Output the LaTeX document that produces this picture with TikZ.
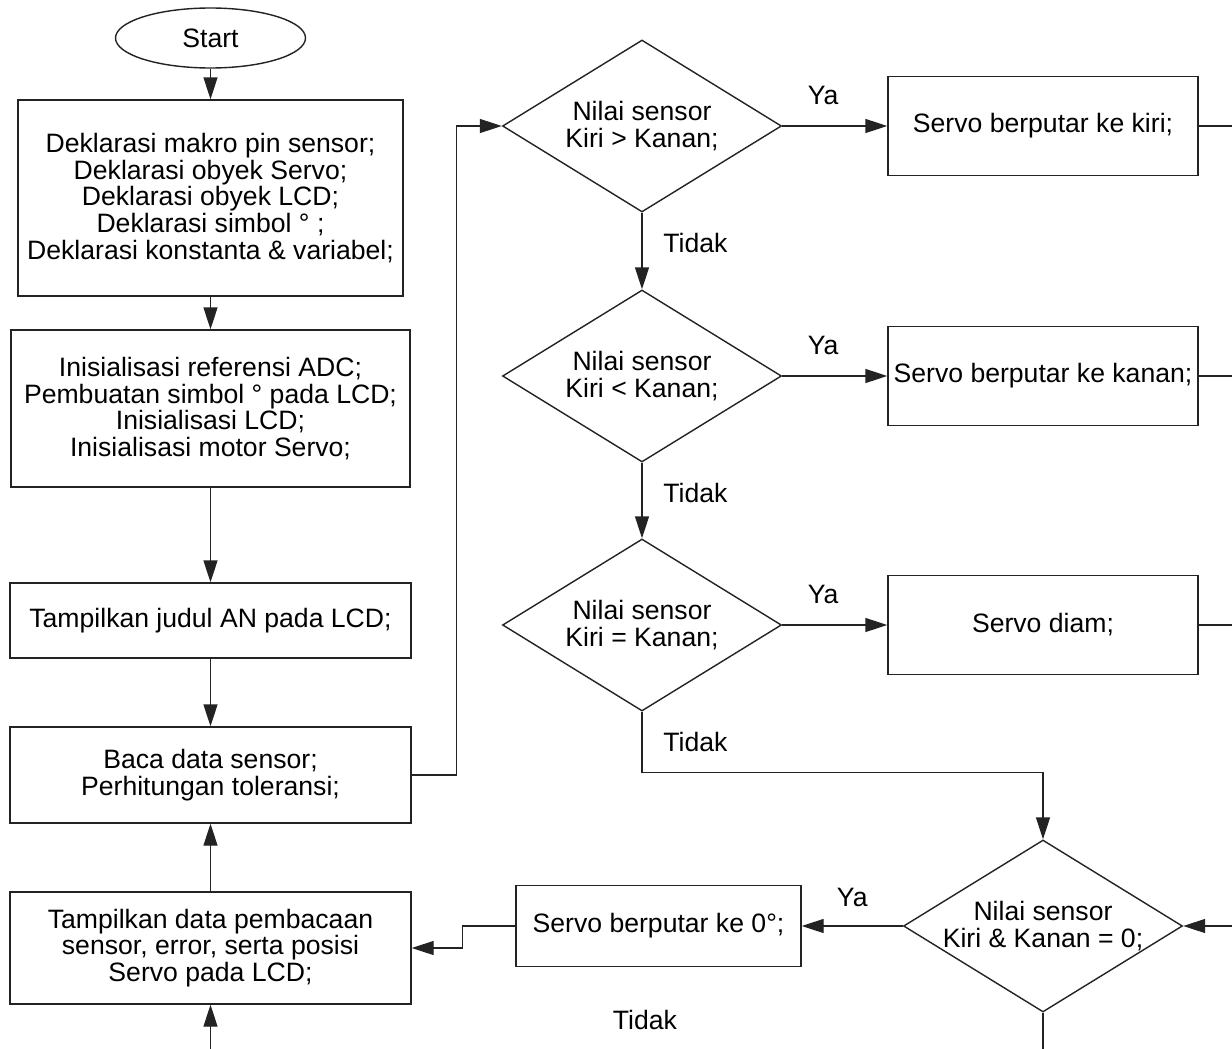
\documentclass[tikz,border=0pt]{standalone}
\usepackage{fontspec}
\setmainfont{Liberation Sans}
\usepackage{tikz}
\usetikzlibrary{shapes.geometric, arrows.meta, positioning, calc}
\definecolor{garis}{RGB}{35,35,35}

\begin{document}
\begin{tikzpicture}[
  x=0.5pt, y=-0.5pt,
  font=\fontsize{13.3}{13.4}\selectfont,
  terminal/.style={ellipse, draw=garis, line width=0.7pt, minimum width=95pt,
                   minimum height=30pt, inner sep=0pt},
  proses/.style={rectangle, draw=garis, line width=0.7pt, align=center,
                 inner sep=0pt},
  keputusan/.style={diamond, draw=garis, line width=0.7pt,
                    minimum width=139.5pt, minimum height=86pt, inner sep=0pt},
  isi/.style={align=center, inner sep=0pt},
  panah/.style={-{Triangle[length=11pt, width=7pt]}, line width=0.7pt, garis},
  sambung/.style={line width=0.7pt, garis},
  ket/.style={text=black}
]
\path[use as bounding box, fill=white] (0,0) rectangle (1232,1049);

% Titik ujung bebas
\coordinate (tepi)   at (1232,0);
\coordinate (masuk)  at (1232,926);
\coordinate (bawah)  at (210.5,1049);
\coordinate (keluar) at (1043,1049);

% Kolom kiri
\node[terminal] (start) at (210.5,38) {Start};
\node[proses, minimum width=192.5pt, minimum height=98pt] (dekl) at (210.5,198)
  {Deklarasi makro pin sensor;\\Deklarasi obyek Servo;\\Deklarasi obyek LCD;\\
   Deklarasi simbol ° ;\\Deklarasi konstanta \& variabel;};
\node[proses, minimum width=199.5pt, minimum height=78.5pt] (init) at (210.5,408.5)
  {Inisialisasi referensi ADC;\\Pembuatan simbol ° pada LCD;\\Inisialisasi LCD;\\
   Inisialisasi motor Servo;};
\node[proses, minimum width=200.5pt, minimum height=37.5pt] (judul) at (210.5,620.5)
  {Tampilkan judul AN pada LCD;};
\node[proses, minimum width=200.5pt, minimum height=48pt] (baca) at (210.5,775)
  {Baca data sensor;\\Perhitungan toleransi;};
\node[proses, minimum width=200.5pt, minimum height=56pt] (tampil) at (210.5,948)
  {Tampilkan data pembacaan\\sensor, error, serta posisi\\Servo pada LCD;};

% Keputusan
\node[keputusan, label={[isi]center:Nilai sensor\\Kiri > Kanan;}] (cek1) at (642,126) {};
\node[keputusan, label={[isi]center:Nilai sensor\\Kiri < Kanan;}] (cek2) at (642,376) {};
\node[keputusan, label={[isi]center:Nilai sensor\\Kiri = Kanan;}] (cek3) at (642,625) {};
\node[keputusan, label={[isi]center:Nilai sensor\\Kiri \& Kanan = 0;}] (cek4) at (1043,926) {};

% Aksi servo
\node[proses, minimum width=155pt, minimum height=49.5pt] (kiri) at (1043,126)
  {Servo berputar ke kiri;};
\node[proses, minimum width=155pt, minimum height=49.5pt] (kanan) at (1043,376)
  {Servo berputar ke kanan;};
\node[proses, minimum width=155pt, minimum height=49.5pt] (diam) at (1043,625)
  {Servo diam;};
\node[proses, minimum width=142.5pt, minimum height=40.5pt] (nol) at (658.5,926)
  {Servo berputar ke 0°;};

% Panah
\draw[panah] (start) -- (dekl);
\draw[panah] (dekl) -- (init);
\draw[panah] (init) -- (judul);
\draw[panah] (judul) -- (baca);
\draw[panah] (tampil) -- (baca);
\draw[panah] (bawah) -- (tampil);
\draw[panah] (baca.east) -- ++(45,0) |- (cek1.west);

\draw[panah] (cek1.east) -- node[ket, above=7pt, pos=0.39]{Ya} (kiri.west);
\draw[panah] (cek2.east) -- node[ket, above=7pt, pos=0.39]{Ya} (kanan.west);
\draw[panah] (cek3.east) -- node[ket, above=7pt, pos=0.39]{Ya} (diam.west);
\draw[panah] (cek1) -- node[ket, right=7pt, pos=0.4]{Tidak} (cek2);
\draw[panah] (cek2) -- node[ket, right=7pt, pos=0.4]{Tidak} (cek3);
\draw[panah] (cek3.south) -- ++(0,61) node[ket, right=7pt, midway]{Tidak} -| (cek4.north);

\draw[sambung] (kiri.east) -- (kiri.east -| tepi);
\draw[sambung] (kanan.east) -- (kanan.east -| tepi);
\draw[sambung] (diam.east) -- (diam.east -| tepi);
\draw[panah] (masuk) -- (cek4.east);
\draw[panah] (cek4.west) -- node[ket, above=6pt]{Ya} (nol.east);
\draw[panah] (nol.west) -- ++(-53,0) |- (tampil.east);
\draw[sambung] (cek4.south) -- (keluar);

\node[ket] (tidak4) at (645,1020) {Tidak};
\end{tikzpicture}
\end{document}
